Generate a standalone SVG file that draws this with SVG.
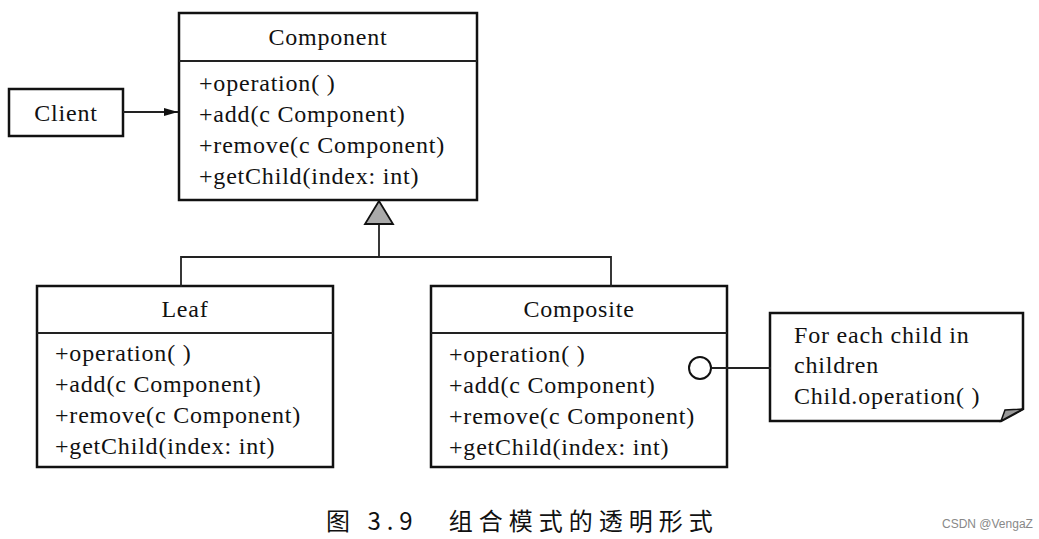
<svg xmlns="http://www.w3.org/2000/svg" width="1039" height="539" viewBox="0 0 1039 539">
<style>
.b{fill:#fff;stroke:#111;stroke-width:2.5}
.l{stroke:#222;stroke-width:1.8;fill:none}
text{font-family:"Liberation Serif",serif;font-size:24px;letter-spacing:0.8px;fill:#111}
.c{text-anchor:middle}
</style>
<defs><marker id="a" markerWidth="14" markerHeight="10" refX="14" refY="5" orient="auto" markerUnits="userSpaceOnUse"><path d="M0,1 L14,5 L0,9 Z" fill="#111"/></marker></defs>
<rect width="1039" height="539" fill="#fff"/>
<g id="client"><rect class="b" x="9" y="89" width="114" height="47"/><text class="c" x="66" y="121">Client</text></g>
<g id="component"><rect class="b" x="179" y="13" width="298" height="187"/><line class="l" x1="179" y1="61" x2="477" y2="61"/>
<text class="c" x="328" y="45">Component</text>
<text x="199" y="91">+operation( )</text><text x="199" y="122">+add(c Component)</text><text x="199" y="153">+remove(c Component)</text><text x="199" y="184">+getChild(index: int)</text></g>
<g id="leaf"><rect class="b" x="37" y="286" width="296" height="181"/><line class="l" x1="37" y1="333" x2="333" y2="333"/>
<text class="c" x="185" y="317">Leaf</text>
<text x="55" y="361">+operation( )</text><text x="55" y="392">+add(c Component)</text><text x="55" y="423">+remove(c Component)</text><text x="55" y="454">+getChild(index: int)</text></g>
<g id="composite"><rect class="b" x="431" y="286" width="296" height="181"/><line class="l" x1="431" y1="333" x2="727" y2="333"/>
<text class="c" x="579" y="317">Composite</text>
<text x="449" y="362">+operation( )</text><text x="449" y="393">+add(c Component)</text><text x="449" y="424">+remove(c Component)</text><text x="449" y="455">+getChild(index: int)</text></g>
<g id="note"><path d="M770,313 L1023,313 L1023,409 L1001,421 L770,421 Z" fill="#fff" stroke="#111" stroke-width="2.5"/>
<path d="M1001,421 L1005,410 L1023,409 Z" fill="#999" stroke="#111" stroke-width="1.5"/>
<text x="794" y="343">For each child in</text><text x="794" y="373">children</text><text x="794" y="404">Child.operation( )</text></g>
<g id="connectors">
<line class="l" x1="123" y1="112" x2="178" y2="112" marker-end="url(#a)"/>
<polyline class="l" points="181,287 181,257 611,257 611,287"/>
<line class="l" x1="379" y1="257" x2="379" y2="224"/>
<polygon points="379,201 365,224 393,224" fill="#aaa" stroke="#111" stroke-width="1.8"/>
<line class="l" x1="712" y1="368" x2="771" y2="368"/>
<circle cx="700" cy="368" r="11" fill="#fff" stroke="#111" stroke-width="2"/>
</g>
<text x="326" y="530" style="font-family:'Noto Sans CJK SC',sans-serif;font-size:24px;letter-spacing:6px">图 3.9　组合模式的透明形式</text>
<text x="942" y="528" style="font-family:'Liberation Sans',sans-serif;font-size:12px;letter-spacing:0;fill:#888">CSDN @VengaZ</text>
</svg>
